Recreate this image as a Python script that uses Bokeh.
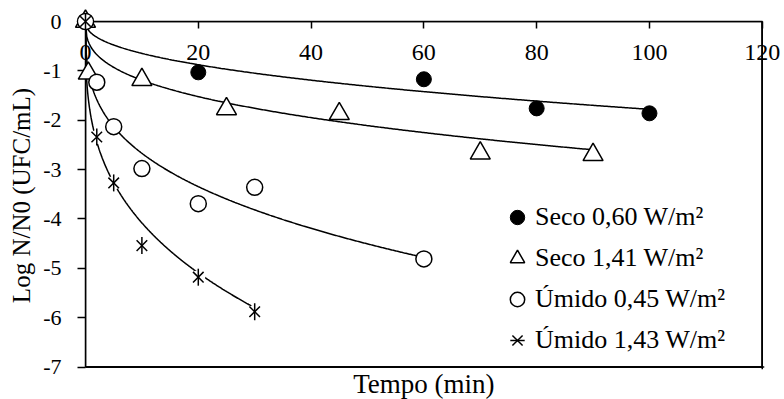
import numpy as np
from bokeh.plotting import figure
from bokeh.core.properties import value
from bokeh.models import LinearAxis, FixedTicker, Legend, LegendItem, Range1d, Span
from bokeh.embed import file_html
from bokeh.resources import INLINE

# Exposure time (min) and log reduction, one pair of lists per condition
t_seco_060 = [0, 20, 60, 80, 100]
y_seco_060 = [0, -1.03, -1.17, -1.76, -1.86]
t_seco_141 = [0, 0.5, 10, 25, 45, 70, 90]
y_seco_141 = [0, -1.05, -1.18, -1.77, -1.87, -2.67, -2.70]
t_umido_045 = [0, 2, 5, 10, 20, 30, 60]
y_umido_045 = [0, -1.23, -2.13, -2.98, -3.69, -3.36, -4.81]
t_umido_143 = [0, 2, 5, 10, 20, 30]
y_umido_143 = [0, -2.34, -3.27, -4.54, -5.18, -5.88]

# Weibull inactivation model: log N/N0 = -(t/delta)^p
weibull_delta = [27.0, 6.15, 0.487, 0.1235]
weibull_p = [0.44, 0.356, 0.325, 0.32]
model_tmax = [100, 90, 60, 30]

series_names = ["Seco 0,60 W/m²", "Seco 1,41 W/m²", "Úmido 0,45 W/m²", "Úmido 1,43 W/m²"]

x_ticks = [0, 20, 40, 60, 80, 100, 120]
y_ticks = [0, -1, -2, -3, -4, -5, -6, -7]
y_tick_labels = ["0", "-1", "-2", "-3", "-4", "-5", "-6", "-7"]
x_title = "Tempo (min)"
y_title = "Log N/N0 (UFC/mL)"

FONT = "Liberation Serif"

x0, x1 = x_ticks[0], x_ticks[-1]
y0, y1 = y_ticks[-1], y_ticks[0]
# small margin so the box edges fall just inside the drawing area
PAD_X, PAD_Y = 0.4, 0.05

p = figure(width=784, height=399,
           x_range=Range1d(x0, x1 + PAD_X), y_range=Range1d(y0 - PAD_Y, y1),
           output_backend="svg", toolbar_location=None,
           x_axis_location=None, y_axis_location=None,
           min_border_left=85, min_border_right=20, min_border_top=21, min_border_bottom=30)
p.grid.visible = False
p.outline_line_color = None
p.background_fill_color = "white"
p.border_fill_color = "white"

# time axis sits on y = 0 with its labels hanging inside the frame
xaxis = LinearAxis(ticker=FixedTicker(ticks=x_ticks), bounds=(x0, x1),
                   major_tick_in=7, major_tick_out=0, minor_tick_in=0, minor_tick_out=0,
                   major_label_standoff=-38,
                   major_label_text_font=FONT, major_label_text_font_size="24px",
                   major_label_text_color="black",
                   axis_line_color="black", axis_line_width=1.5,
                   major_tick_line_color="black", major_tick_line_width=1.5)
p.add_layout(xaxis, "above")

yaxis = LinearAxis(ticker=FixedTicker(ticks=y_ticks), bounds=(y0, y1),
                   major_label_overrides=dict(zip(y_ticks, y_tick_labels)),
                   major_tick_in=0, major_tick_out=8, minor_tick_in=0, minor_tick_out=0,
                   major_label_standoff=16,
                   major_label_text_font=FONT, major_label_text_font_size="22px",
                   major_label_text_color="black",
                   axis_line_color="black", axis_line_width=1.5,
                   major_tick_line_color="black", major_tick_line_width=1.5,
                   axis_label=y_title, axis_label_standoff=5,
                   axis_label_text_font=FONT, axis_label_text_font_size="25px",
                   axis_label_text_font_style="normal", axis_label_text_color="black")
p.add_layout(yaxis, "left")

# bottom and right edges of the plot box
box = p.quad(left=[x0], right=[x1], bottom=[y0], top=[y1],
             fill_color=None, line_color="black", line_width=1.5)
box.level = "underlay"
p.segment(x0=[x0, x1], y0=[y0, y0], x1=[x1, x1], y1=[y0, y1],
          line_color="black", line_width=1.5)
p.add_layout(Span(location=x1, dimension="height", line_color="black", line_width=1.5))
p.add_layout(Span(location=y0, dimension="width", line_color="black", line_width=1.5))

# time-axis title beneath the box
r_title = p.text(x=[(x0 + x1) / 2], y=[y0], text=[x_title], y_offset=17,
                 text_align="center", text_baseline="middle",
                 text_font=value(FONT), text_font_size="27px", text_color="black")

# model curves
for delta, shape, tmax in zip(weibull_delta, weibull_p, model_tmax):
    t = np.linspace(0, tmax, 400)
    p.line(t, -(t / delta) ** shape, line_color="black", line_width=1.5)

r_s060 = p.scatter(t_seco_060, y_seco_060, marker="circle", size=15,
                   fill_color="black", line_color="black", line_width=1)
r_s141 = p.scatter(t_seco_141, y_seco_141, marker="triangle", size=20,
                   fill_color="white", line_color="black", line_width=1.5)
r_u045 = p.scatter(t_umido_045, y_umido_045, marker="circle", size=16,
                   fill_color="white", line_color="black", line_width=1.5)
r_bg = p.scatter(t_umido_143, y_umido_143, marker="circle", size=14,
                 fill_color="white", line_color=None)
# six-armed star: a diagonal cross plus a vertical stroke
r_u143x = p.scatter(t_umido_143, y_umido_143, marker="x", size=15,
                    line_color="black", line_width=1.5)
r_u143v = p.scatter(t_umido_143, y_umido_143, marker="dash", size=17, angle=np.pi / 2,
                    line_color="black", line_width=1.5)
for r in [r_title, r_s060, r_s141, r_u045, r_bg, r_u143x, r_u143v]:
    r.level = "overlay"

legend = Legend(items=[LegendItem(label=series_names[0], renderers=[r_s060]),
                       LegendItem(label=series_names[1], renderers=[r_s141]),
                       LegendItem(label=series_names[2], renderers=[r_u045]),
                       LegendItem(label=series_names[3], renderers=[r_u143x, r_u143v])],
                location=(414, 9), orientation="vertical",
                glyph_width=36, glyph_height=40, label_height=40, spacing=1,
                label_standoff=0, padding=0, margin=0,
                border_line_color=None, background_fill_alpha=0,
                label_text_font=FONT, label_text_font_size="26px",
                label_text_color="black")
p.add_layout(legend)

open("out.html", "w").write(file_html(p, INLINE))
